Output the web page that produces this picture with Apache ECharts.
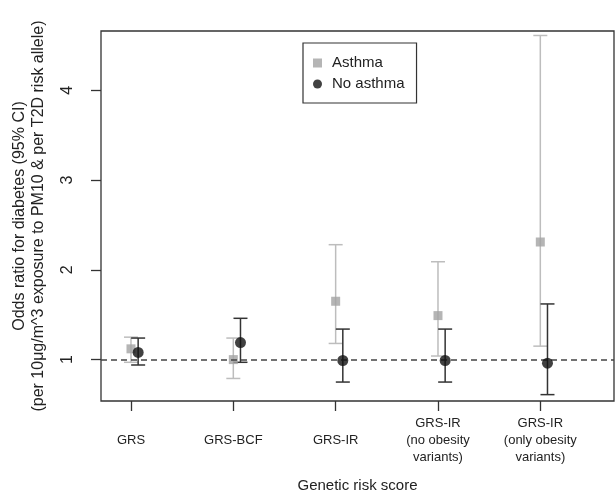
<!DOCTYPE html>
<html>
<head>
<meta charset="utf-8">
<script src="https://cdn.jsdelivr.net/npm/echarts@6/dist/echarts.min.js"></script>
<style>
  html, body { margin: 0; padding: 0; background: #fff; }
  #chart { width: 616px; height: 496px; }
</style>
</head>
<body>
<div id="chart"></div>
<script>
var categories = ['GRS', 'GRS-BCF', 'GRS-IR', 'GRS-IR\n(no obesity\nvariants)', 'GRS-IR\n(only obesity\nvariants)'];
var asthmaOR = [1.12, 1.00, 1.65, 1.49, 2.31];
var asthmaLow = [0.97, 0.79, 1.18, 1.04, 1.15];
var asthmaHigh = [1.25, 1.24, 2.28, 2.09, 4.61];
var noAsthmaOR = [1.08, 1.19, 0.99, 0.99, 0.96];
var noAsthmaLow = [0.94, 0.97, 0.75, 0.75, 0.61];
var noAsthmaHigh = [1.24, 1.46, 1.34, 1.34, 1.62];
var yTicks = [1, 2, 3, 4];
var xTicks = [1, 2, 3, 4, 5];

var offset = 0.07;
var font = 'Liberation Sans, Arial, sans-serif';

function pts(vals, dx) {
    return vals.map(function (v, i) { return [i + 1 + dx, v]; });
}
function bars(lo, hi, dx) {
    return lo.map(function (v, i) { return [i + 1 + dx, v, hi[i]]; });
}
// vertical CI line with caps
function errorBar(color) {
    return function (params, api) {
        var x = api.value(0);
        var a = api.coord([x, api.value(1)]);
        var b = api.coord([x, api.value(2)]);
        var w = 7;
        var st = { stroke: color, lineWidth: 1.5 };
        return {
            type: 'group',
            children: [
                { type: 'line', shape: { x1: a[0], y1: a[1], x2: b[0], y2: b[1] }, style: st },
                { type: 'line', shape: { x1: a[0] - w, y1: a[1], x2: a[0] + w, y2: a[1] }, style: st },
                { type: 'line', shape: { x1: b[0] - w, y1: b[1], x2: b[0] + w, y2: b[1] }, style: st }
            ]
        };
    };
}

var chart = echarts.init(document.getElementById('chart'));
var option = {
    animation: false,
    textStyle: { fontFamily: font },
    grid: {
        left: 101, top: 31, right: 2, bottom: 95,
        outerBoundsMode: 'none',
        containLabel: false,
        show: true, borderColor: '#333', borderWidth: 1.3
    },
    legend: {
        orient: 'vertical',
        left: 303, top: 43,
        padding: [12, 12, 11, 10],
        borderColor: '#333', borderWidth: 1.2,
        itemWidth: 9, itemHeight: 9, itemGap: 5,
        textStyle: { fontFamily: font, fontSize: 15, color: '#222', lineHeight: 16, padding: [0, 0, 0, 5] },
        data: [
            { name: 'Asthma', icon: 'rect' },
            { name: 'No asthma', icon: 'circle' }
        ]
    },
    xAxis: {
        type: 'value',
        min: 0.707, max: 5.72,
        name: 'Genetic risk score',
        nameLocation: 'middle', nameGap: 77,
        nameTextStyle: { fontFamily: font, fontSize: 15, color: '#222' },
        axisLine: { show: false },
        splitLine: { show: false },
        axisTick: { show: true, length: 10, lineStyle: { color: '#333', width: 1.3 }, customValues: xTicks },
        axisLabel: {
            customValues: xTicks,
            margin: 39,
            verticalAlign: 'middle',
            lineHeight: 17,
            fontSize: 13, color: '#222', fontFamily: font,
            formatter: function (v) { return categories[Math.round(v) - 1]; }
        }
    },
    yAxis: {
        type: 'value',
        min: 0.539, max: 4.66,
        name: 'Odds ratio for diabetes (95% CI)\n(per 10\u03bcg/m^3 exposure to PM10 & per T2D risk allele)',
        nameLocation: 'middle', nameGap: 53,
        nameTextStyle: { fontFamily: font, fontSize: 16, color: '#222', lineHeight: 19 },
        axisLine: { show: false },
        splitLine: { show: false },
        axisTick: { show: true, length: 10, lineStyle: { color: '#333', width: 1.3 }, customValues: yTicks },
        axisLabel: {
            customValues: yTicks,
            rotate: 90,
            margin: 25,
            fontSize: 16, color: '#222', fontFamily: font
        }
    },
    series: [
        {
            name: 'asthma-ci',
            type: 'custom',
            renderItem: errorBar('#bdbdbd'),
            data: bars(asthmaLow, asthmaHigh, 0),
            encode: { x: 0, y: [1, 2] },
            z: 2
        },
        {
            name: 'no-asthma-ci',
            type: 'custom',
            renderItem: errorBar('#333'),
            data: bars(noAsthmaLow, noAsthmaHigh, offset),
            encode: { x: 0, y: [1, 2] },
            z: 3
        },
        {
            name: 'Asthma',
            type: 'scatter',
            symbol: 'rect',
            symbolSize: 9,
            itemStyle: { color: '#a3a3a3' },
            data: pts(asthmaOR, 0),
            z: 4,
            markLine: {
                silent: true,
                symbol: 'none',
                label: { show: false },
                lineStyle: { color: '#444', type: [6, 4], width: 1.5 },
                data: [{ yAxis: 1 }]
            }
        },
        {
            name: 'No asthma',
            type: 'scatter',
            symbol: 'circle',
            symbolSize: 11,
            itemStyle: { color: '#111' },
            data: pts(noAsthmaOR, offset),
            z: 5
        }
    ]
};
chart.setOption(option);
</script>
</body>
</html>
